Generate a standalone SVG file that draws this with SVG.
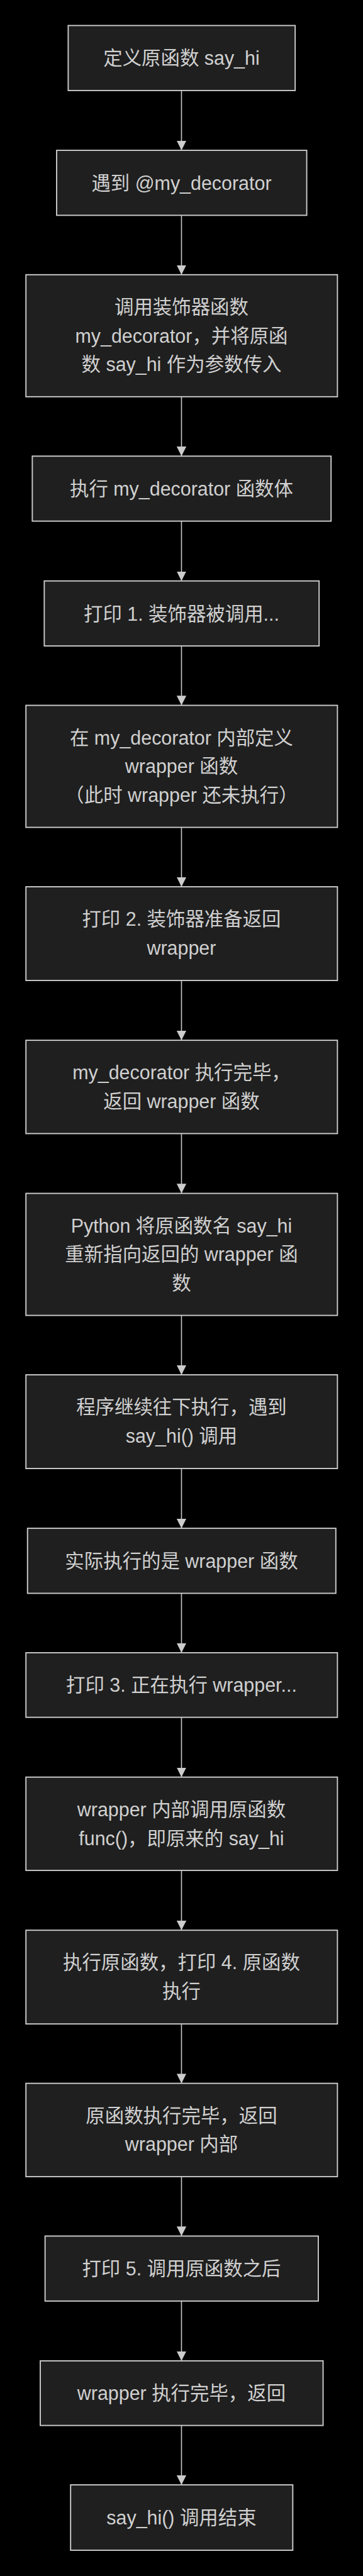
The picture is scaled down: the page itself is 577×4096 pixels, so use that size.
<svg xmlns="http://www.w3.org/2000/svg" width="577" height="4096" viewBox="0 0 577 4096">
<style>
.bg{fill:#000000}
.node rect{fill:#1f1f1f;stroke:#cccccc;stroke-width:3}
.node text{fill:#d0d0d0;font-family:"Trebuchet MS","Liberation Sans","Noto Sans CJK SC",sans-serif;font-size:48px;text-anchor:middle}
.edge{stroke:#cccccc;stroke-width:2.5;fill:none;marker-end:url(#arr)}
</style>
<defs>
<marker id="arr" viewBox="0 0 24 24" refX="24" refY="12" markerWidth="24" markerHeight="24" orient="auto" markerUnits="userSpaceOnUse">
<path d="M0,0 L24,12 L0,24 z" fill="#cccccc"/>
</marker>
</defs>
<rect class="bg" x="0" y="0" width="577" height="4096"/>
<g transform="scale(0.634)">
<g id="edges">
<line class="edge" x1="455" y1="227" x2="455" y2="377"/>
<line class="edge" x1="455" y1="540" x2="455" y2="689"/>
<line class="edge" x1="455" y1="995" x2="455" y2="1144"/>
<line class="edge" x1="455" y1="1307" x2="455" y2="1457"/>
<line class="edge" x1="455" y1="1620" x2="455" y2="1769"/>
<line class="edge" x1="455" y1="2075" x2="455" y2="2224"/>
<line class="edge" x1="455" y1="2459" x2="455" y2="2609"/>
<line class="edge" x1="455" y1="2843" x2="455" y2="2993"/>
<line class="edge" x1="455" y1="3299" x2="455" y2="3448"/>
<line class="edge" x1="455" y1="3683" x2="455" y2="3833"/>
<line class="edge" x1="455" y1="3996" x2="455" y2="4145"/>
<line class="edge" x1="455" y1="4307" x2="455" y2="4457"/>
<line class="edge" x1="455" y1="4691" x2="455" y2="4841"/>
<line class="edge" x1="455" y1="5076" x2="455" y2="5225"/>
<line class="edge" x1="455" y1="5459" x2="455" y2="5608"/>
<line class="edge" x1="455" y1="5771" x2="455" y2="5921"/>
<line class="edge" x1="455" y1="6083" x2="455" y2="6232"/>
</g>
<g id="n1" class="node"><rect x="171" y="64" width="569" height="163"/><text x="455" y="163">定义原函数 say_hi</text></g>
<g id="n2" class="node"><rect x="142" y="377" width="627" height="163"/><text x="455" y="476">遇到 @my_decorator</text></g>
<g id="n3" class="node"><rect x="65" y="689" width="781" height="306"/><text x="455" y="787">调用装饰器函数</text><text x="455" y="859">my_decorator，并将原函</text><text x="455" y="931">数 say_hi 作为参数传入</text></g>
<g id="n4" class="node"><rect x="81" y="1144" width="749" height="163"/><text x="455" y="1243">执行 my_decorator 函数体</text></g>
<g id="n5" class="node"><rect x="111" y="1457" width="689" height="163"/><text x="455" y="1556">打印 1. 装饰器被调用...</text></g>
<g id="n6" class="node"><rect x="65" y="1769" width="781" height="306"/><text x="455" y="1867">在 my_decorator 内部定义</text><text x="455" y="1939">wrapper 函数</text><text x="455" y="2011">（此时 wrapper 还未执行）</text></g>
<g id="n7" class="node"><rect x="65" y="2224" width="781" height="235"/><text x="455" y="2322">打印 2. 装饰器准备返回</text><text x="455" y="2394">wrapper</text></g>
<g id="n8" class="node"><rect x="65" y="2609" width="781" height="234"/><text x="455" y="2707">my_decorator 执行完毕，</text><text x="455" y="2779">返回 wrapper 函数</text></g>
<g id="n9" class="node"><rect x="65" y="2993" width="781" height="306"/><text x="455" y="3091">Python 将原函数名 say_hi</text><text x="455" y="3163">重新指向返回的 wrapper 函</text><text x="455" y="3235">数</text></g>
<g id="n10" class="node"><rect x="65" y="3448" width="781" height="235"/><text x="455" y="3546">程序继续往下执行，遇到</text><text x="455" y="3618">say_hi() 调用</text></g>
<g id="n11" class="node"><rect x="69" y="3833" width="773" height="163"/><text x="455" y="3932">实际执行的是 wrapper 函数</text></g>
<g id="n12" class="node"><rect x="65" y="4145" width="781" height="162"/><text x="455" y="4243">打印 3. 正在执行 wrapper...</text></g>
<g id="n13" class="node"><rect x="65" y="4457" width="781" height="234"/><text x="455" y="4555">wrapper 内部调用原函数</text><text x="455" y="4627">func()，即原来的 say_hi</text></g>
<g id="n14" class="node"><rect x="65" y="4841" width="781" height="235"/><text x="455" y="4939">执行原函数，打印 4. 原函数</text><text x="455" y="5011">执行</text></g>
<g id="n15" class="node"><rect x="65" y="5225" width="781" height="234"/><text x="455" y="5323">原函数执行完毕，返回</text><text x="455" y="5395">wrapper 内部</text></g>
<g id="n16" class="node"><rect x="113" y="5608" width="685" height="163"/><text x="455" y="5707">打印 5. 调用原函数之后</text></g>
<g id="n17" class="node"><rect x="101" y="5921" width="709" height="162"/><text x="455" y="6019">wrapper 执行完毕，返回</text></g>
<g id="n18" class="node"><rect x="177" y="6232" width="557" height="164"/><text x="455" y="6331">say_hi() 调用结束</text></g>
</g>
</svg>
